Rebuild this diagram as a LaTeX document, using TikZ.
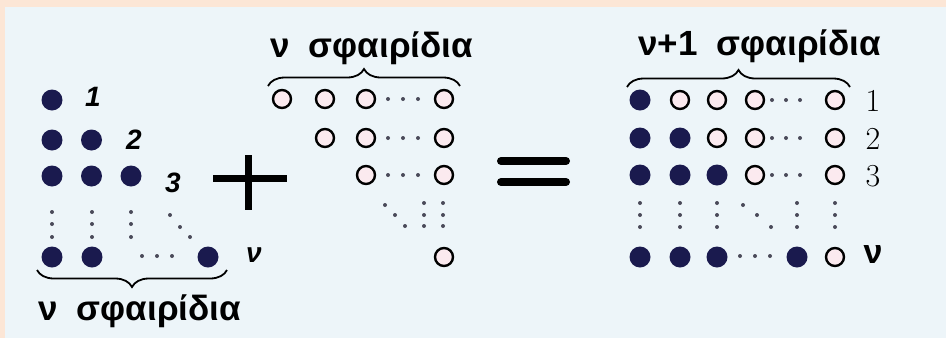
\documentclass[tikz,border=0pt]{standalone}
\usepackage{fontspec}
\newfontfamily\grk{Liberation Sans}
\usepackage{tikz}
\usetikzlibrary{decorations.pathreplacing}

\definecolor{peach}{HTML}{FCE6D6}
\definecolor{sky}{HTML}{EDF5F9}
\definecolor{navy}{HTML}{1A1A4E}
\definecolor{blush}{HTML}{FBEAEF}
\definecolor{pipgray}{HTML}{4A4A5A}

\begin{document}
\begin{tikzpicture}[x=1pt, y=-1pt,
  ball/.style={circle, fill=navy, inner sep=0pt, minimum size=21pt},
  hollow/.style={circle, draw=black, line width=2.4pt, fill=blush, inner sep=0pt, minimum size=18pt},
  pip/.style={circle, fill=pipgray, inner sep=0pt, minimum size=4pt},
  grktext/.style={font=\grk\bfseries\fontsize{35}{40}\selectfont, inner sep=0pt, anchor=base west},
  itlbl/.style={font=\grk\bfseries\itshape\fontsize{28}{32}\selectfont, inner sep=0pt},
  rmlbl/.style={font=\fontsize{32}{36}\selectfont, inner sep=0pt},
  brc/.style={decorate, decoration={brace, amplitude=17pt}, line width=1.8pt}]
  % backdrop
  \fill[peach] (0,0) rectangle (946,338);
  \fill[sky] (5,7) rectangle (946,338);

  % left triangle: nu balls
  \foreach \r/\y in {1/100, 2/140, 3/176} {
    \foreach \c in {1,...,\r} {
      \pgfmathsetmacro\x{52+(\c-1)*39.5}
      \node[ball] (l\r\c) at (\x, \y) {};
    }
  }
  \node[ball] (lb1) at (52, 257) {};
  \node[ball] (lb2) at (92, 257) {};
  \node[ball] (lbn) at (208, 257) {};
  \foreach \x in {52, 92, 131}
    \foreach \y in {212, 224, 237}
      \node[pip] at (\x, \y) {};
  \foreach \x/\y in {170/215, 180/227, 190/237, 142/256, 157/256, 172/256}
    \node[pip] at (\x, \y) {};
  \node[itlbl] (n1) at (93, 97) {1};
  \node[itlbl] (n2) at (134, 140) {2};
  \node[itlbl] (n3) at (173, 183) {3};
  \node[itlbl] (nv) at (254, 255) {ν};
  \coordinate (lbr1) at (227, 270);
  \coordinate (lbr2) at (37, 270);
  \draw[brc] (lbr1) -- (lbr2);
  \node[grktext] (ltext) at (38, 320) {ν\hspace{0.55em}σφαιρίδια};

  % plus
  \draw[line width=7pt] (213, 178) -- (287, 178);
  \draw[line width=7pt] (248, 155) -- (248, 210);

  % middle triangle: nu hollow balls
  \node[hollow] (m11) at (282, 99) {};
  \node[hollow] (m12) at (325, 99) {};
  \node[hollow] (m13) at (366, 99) {};
  \node[hollow] (m1n) at (444, 99) {};
  \node[hollow] (m22) at (325, 138) {};
  \node[hollow] (m23) at (366, 138) {};
  \node[hollow] (m2n) at (444, 138) {};
  \node[hollow] (m33) at (366, 175) {};
  \node[hollow] (m3n) at (444, 175) {};
  \node[hollow] (mbn) at (444, 257) {};
  \foreach \y in {99, 138, 175}
    \foreach \x in {388, 403, 418}
      \node[pip] at (\x, \y) {};
  \foreach \x/\y in {385/205, 395/215, 405/226, 424/203, 424/215, 424/226, 443/203, 443/215, 443/226}
    \node[pip] at (\x, \y) {};
  \coordinate (mbr1) at (268, 86);
  \coordinate (mbr2) at (460, 86);
  \draw[brc] (mbr1) -- (mbr2);
  \node[grktext] (mtext) at (270, 57) {ν\hspace{0.55em}σφαιρίδια};

  % equals
  \draw[line width=8pt, line cap=round] (501, 161) -- (566, 161);
  \draw[line width=8pt, line cap=round] (501, 182) -- (566, 182);

  % right square: nu+1 columns
  \foreach \r/\y in {1/100, 2/138, 3/175} {
    \foreach \c/\x in {1/640, 2/680, 3/717, 4/755} {
      \ifnum\c>\r
        \node[hollow] (r\r\c) at (\x, \y) {};
      \else
        \node[ball] (r\r\c) at (\x, \y) {};
      \fi
    }
    \node[hollow] (r\r n) at (835, \y) {};
    \foreach \x in {772, 786, 800}
      \node[pip] at (\x, \y) {};
  }
  \node[ball] (rb1) at (640, 257) {};
  \node[ball] (rb2) at (680, 257) {};
  \node[ball] (rb3) at (717, 257) {};
  \node[ball] (rbm) at (797, 257) {};
  \node[hollow] (rbn) at (835, 257) {};
  \foreach \x in {640, 680, 717, 797, 835}
    \foreach \y in {203, 215, 227}
      \node[pip] at (\x, \y) {};
  \foreach \x/\y in {743/205, 757/215, 771/227, 740/256, 755/256, 770/256}
    \node[pip] at (\x, \y) {};
  \node[rmlbl] (k1) at (873, 101) {1};
  \node[rmlbl] (k2) at (873, 139) {2};
  \node[rmlbl] (k3) at (873, 176) {3};
  \node[font=\grk\bfseries\fontsize{34}{38}\selectfont, inner sep=0pt] (kv) at (873, 255) {ν};
  \coordinate (rbr1) at (627, 87);
  \coordinate (rbr2) at (850, 87);
  \draw[brc] (rbr1) -- (rbr2);
  \node[grktext] (rtext) at (638, 55) {ν+1\hspace{0.55em}σφαιρίδια};
\end{tikzpicture}
\end{document}
